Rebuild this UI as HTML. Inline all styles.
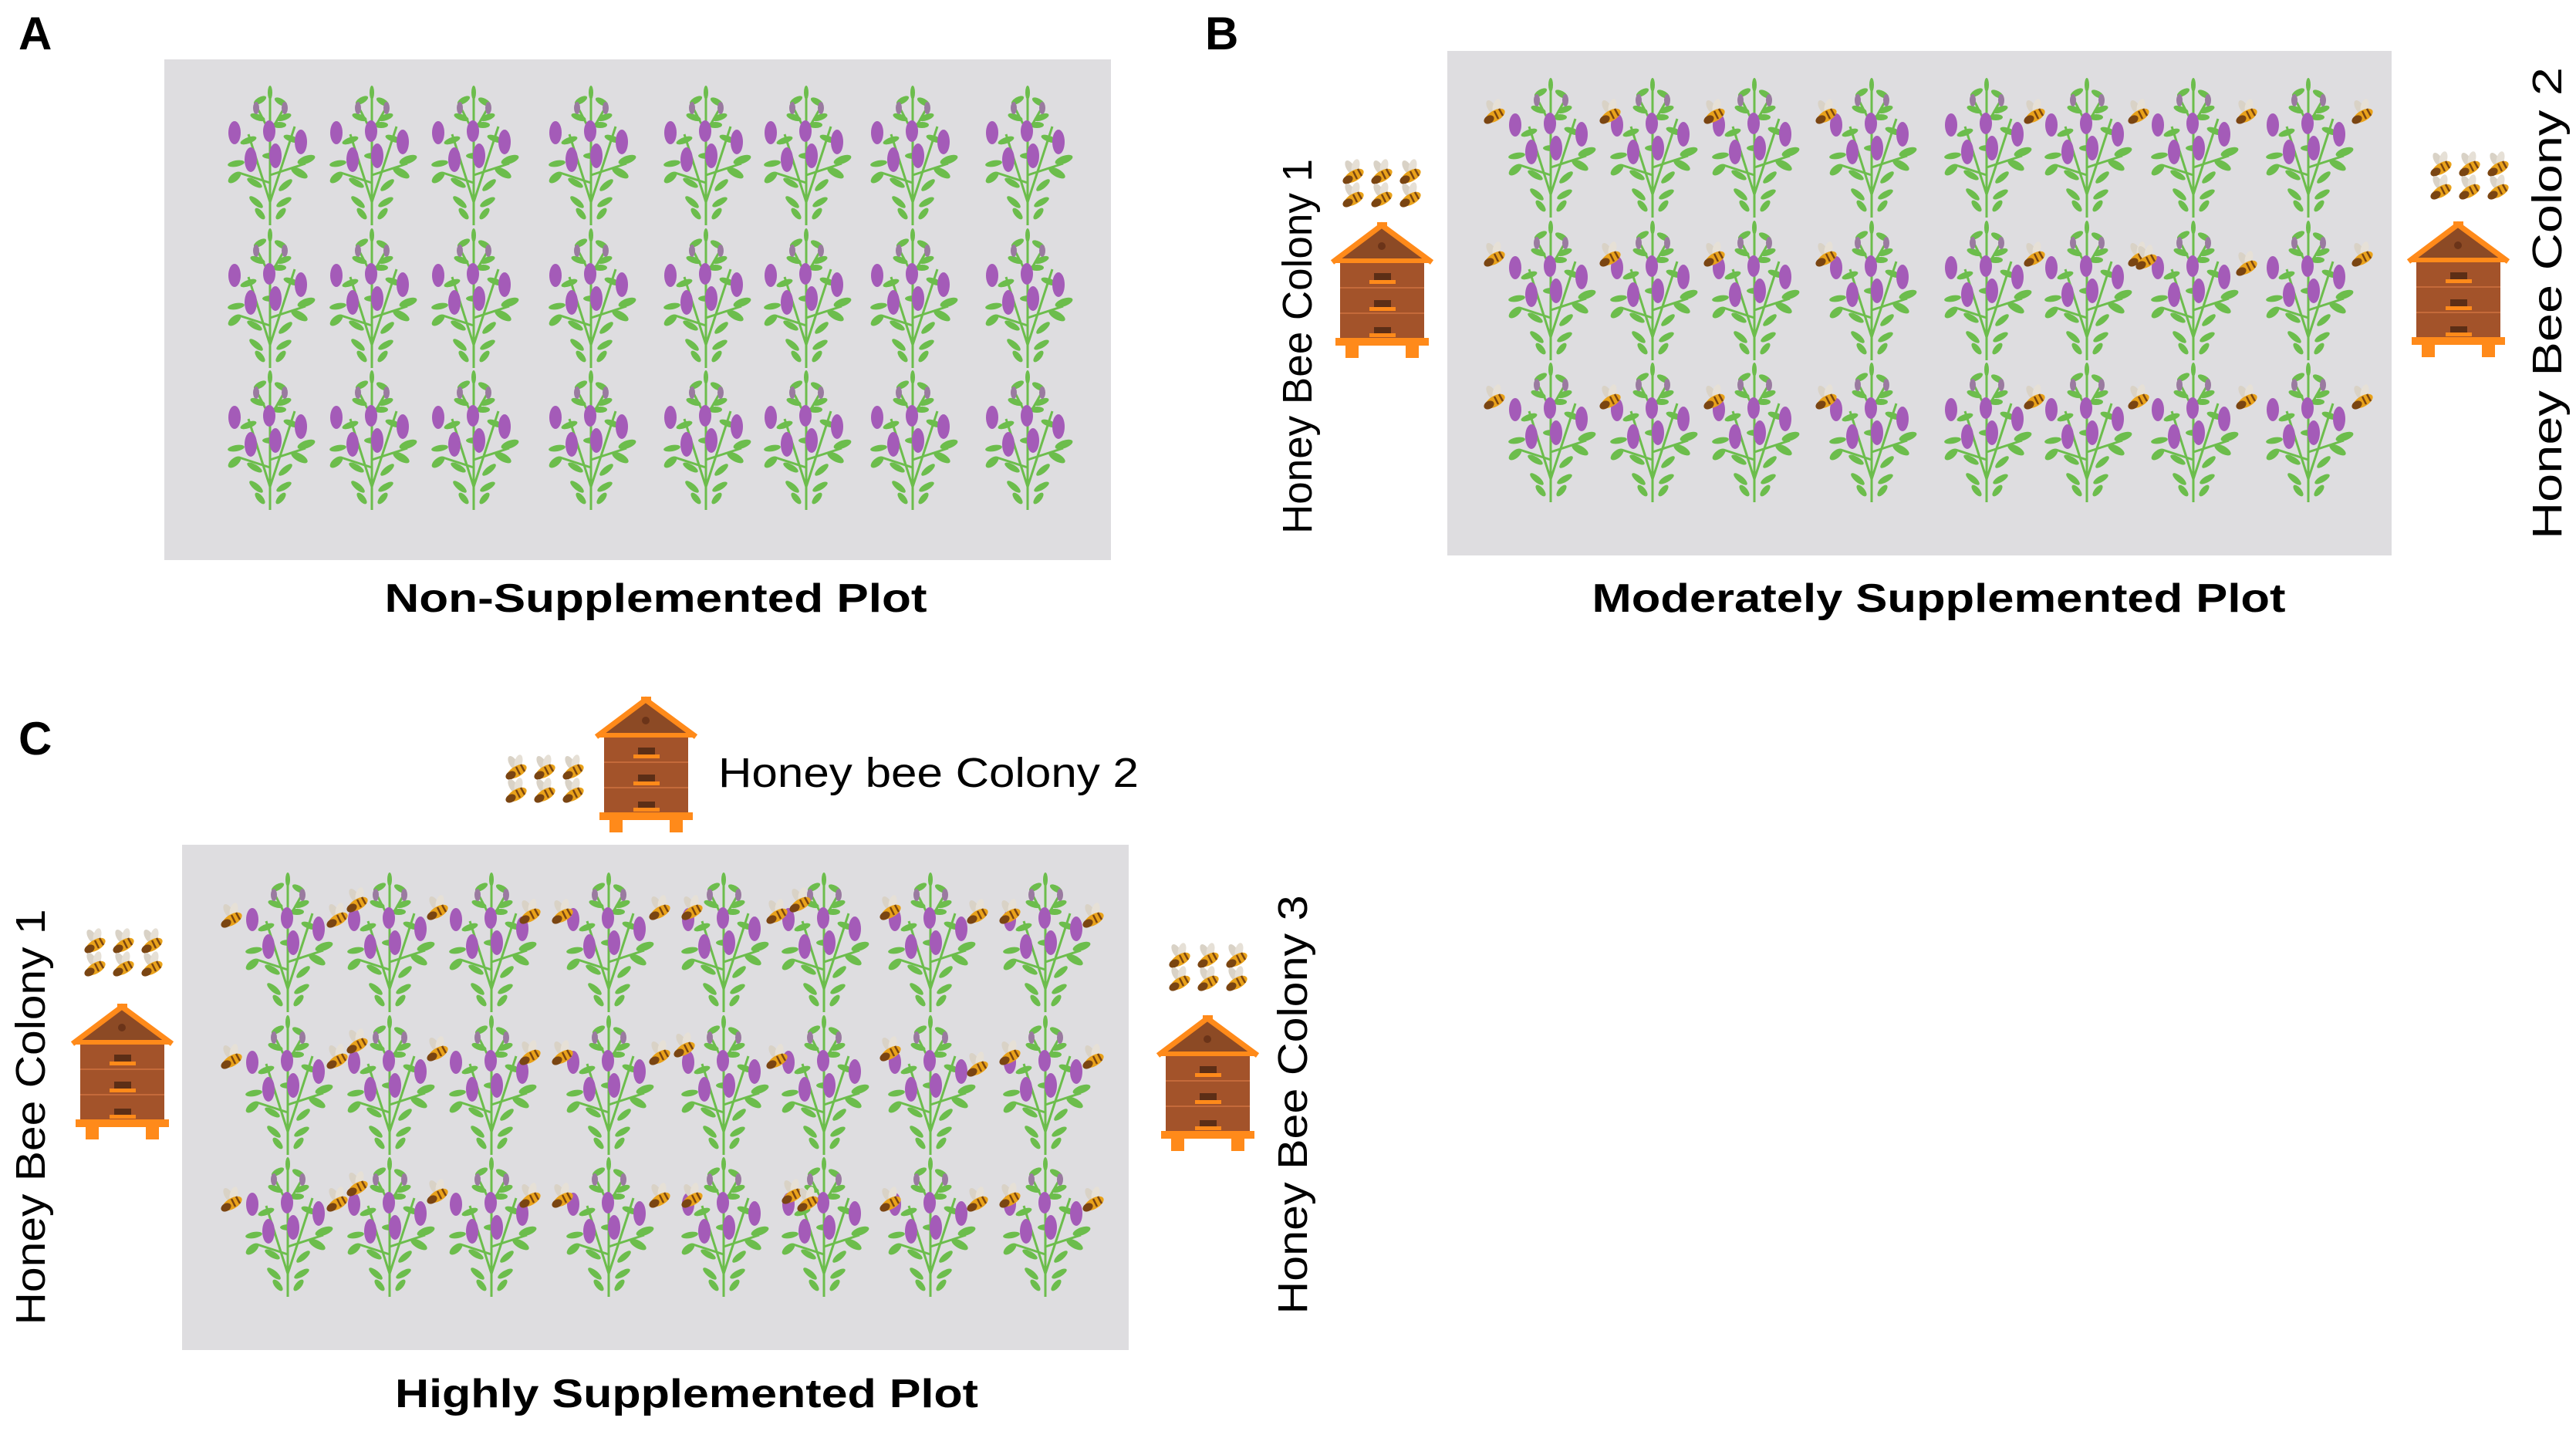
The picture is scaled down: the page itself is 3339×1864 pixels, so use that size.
<!DOCTYPE html>
<html><head><meta charset="utf-8"><style>html,body{margin:0;padding:0;background:#fff}svg{display:block}</style></head><body>
<svg width="3339" height="1864" viewBox="0 0 3339 1864" xmlns="http://www.w3.org/2000/svg" font-family="Liberation Sans, sans-serif">
<defs>
<g id="plant">
 <g stroke="#6cbd4c" stroke-width="3" fill="none">
  <path d="M58 180 L58 8"/><path d="M58 150 L30 62"/><path d="M58 150 L90 52"/><path d="M58 125 L18 112"/><path d="M58 115 L104 100"/><path d="M58 60 L40 25"/><path d="M58 60 L78 25"/>
 </g>
 <g fill="#6cbd4c">
  <ellipse cx="58" cy="8" rx="3" ry="9"/>
  <ellipse cx="45" cy="18" rx="9" ry="4" transform="rotate(-30 45 18)"/><ellipse cx="72" cy="20" rx="9" ry="4" transform="rotate(30 72 20)"/>
  <ellipse cx="42" cy="40" rx="10" ry="4" transform="rotate(20 42 40)"/><ellipse cx="76" cy="40" rx="10" ry="4" transform="rotate(-20 76 40)"/>
  <ellipse cx="30" cy="70" rx="11" ry="4" transform="rotate(-20 30 70)"/><ellipse cx="86" cy="68" rx="11" ry="4" transform="rotate(20 86 68)"/>
  <ellipse cx="14" cy="100" rx="11" ry="4" transform="rotate(-10 14 100)"/><ellipse cx="105" cy="95" rx="12" ry="5" transform="rotate(-20 105 95)"/>
  <ellipse cx="12" cy="118" rx="10" ry="5" transform="rotate(-40 12 118)"/><ellipse cx="96" cy="112" rx="12" ry="5" transform="rotate(30 96 112)"/>
  <ellipse cx="38" cy="125" rx="11" ry="4" transform="rotate(30 38 125)"/><ellipse cx="78" cy="128" rx="11" ry="4" transform="rotate(-40 78 128)"/>
  <ellipse cx="40" cy="150" rx="11" ry="4" transform="rotate(40 40 150)"/><ellipse cx="76" cy="150" rx="11" ry="4" transform="rotate(-30 76 150)"/>
  <ellipse cx="45" cy="165" rx="9" ry="4" transform="rotate(50 45 165)"/><ellipse cx="72" cy="165" rx="9" ry="4" transform="rotate(-50 72 165)"/>
  <ellipse cx="60" cy="90" rx="12" ry="4"/><ellipse cx="70" cy="50" rx="9" ry="4"/>
 </g>
 <g fill="#a45bb8">
  <ellipse cx="12" cy="60" rx="8" ry="15"/><ellipse cx="57" cy="58" rx="8" ry="14"/><ellipse cx="98" cy="72" rx="8" ry="16"/>
  <ellipse cx="33" cy="95" rx="8" ry="16"/><ellipse cx="65" cy="90" rx="8" ry="16"/>
  <ellipse cx="40" cy="28" rx="4" ry="8" fill="#9a7aa0"/><ellipse cx="77" cy="28" rx="4" ry="8" fill="#9a7aa0"/>
 </g>
</g>
<g id="bee">
 <ellipse cx="13" cy="9" rx="5" ry="10" fill="#d9d2c6" transform="rotate(-30 13 9)"/>
 <ellipse cx="20" cy="8" rx="5" ry="10" fill="#e6e0d6" transform="rotate(15 20 8)"/>
 <ellipse cx="18" cy="20" rx="14" ry="7" fill="#e9a21a" transform="rotate(-30 18 20)"/>
 <ellipse cx="10" cy="25" rx="7" ry="5" fill="#7a4512" transform="rotate(-30 10 25)"/>
 <path d="M17 14 L22 24 M23 11 L28 20" stroke="#7a4512" stroke-width="2.5"/>
</g>
<g id="bees">
 <use href="#bee" x="0" y="0"/><use href="#bee" x="37" y="0"/><use href="#bee" x="74" y="0"/>
 <use href="#bee" x="0" y="30"/><use href="#bee" x="37" y="30"/><use href="#bee" x="74" y="30"/>
</g>
<g id="hive">
 <rect x="12" y="52" width="109" height="100" fill="#a3532a"/>
 <path d="M12 85 H121 M12 118 H121" stroke="#c46a3a" stroke-width="2"/>
 <polygon points="66,6 124,50 8,50" fill="#8c4a25"/>
 <polyline points="2,52 66,4 131,52" fill="none" stroke="#ff8a1a" stroke-width="7"/>
 <rect x="4" y="47" width="125" height="6" fill="#ff8a1a"/>
 <rect x="60" y="0" width="13" height="8" fill="#ff8a1a"/>
 <circle cx="66" cy="31" r="5" fill="#6b3419"/>
 <rect x="56" y="66" width="22" height="9" fill="#5c2e16"/><rect x="50" y="75" width="34" height="5" fill="#ff8a1a"/>
 <rect x="56" y="101" width="22" height="9" fill="#5c2e16"/><rect x="50" y="110" width="34" height="5" fill="#ff8a1a"/>
 <rect x="56" y="136" width="22" height="9" fill="#5c2e16"/><rect x="50" y="144" width="34" height="5" fill="#ff8a1a"/>
 <rect x="6" y="150" width="121" height="10" fill="#ff8a1a"/>
 <rect x="19" y="160" width="17" height="16" fill="#ff8a1a"/><rect x="97" y="160" width="17" height="16" fill="#ff8a1a"/>
</g>
</defs>

<!-- Letters -->
<text x="24" y="64" font-size="60" font-weight="bold">A</text>
<text x="1562" y="64" font-size="60" font-weight="bold">B</text>
<text x="24" y="978" font-size="60" font-weight="bold">C</text>

<!-- Panel A -->
<rect x="213" y="77" width="1227" height="649" fill="#dedde0"/>
<g id="plantsA">
 <g transform="translate(0,112)">
  <use href="#plant" x="292"/><use href="#plant" x="424"/><use href="#plant" x="556"/><use href="#plant" x="708"/><use href="#plant" x="857"/><use href="#plant" x="987"/><use href="#plant" x="1125"/><use href="#plant" x="1274"/>
 </g>
 <g transform="translate(0,297)">
  <use href="#plant" x="292"/><use href="#plant" x="424"/><use href="#plant" x="556"/><use href="#plant" x="708"/><use href="#plant" x="857"/><use href="#plant" x="987"/><use href="#plant" x="1125"/><use href="#plant" x="1274"/>
 </g>
 <g transform="translate(0,481)">
  <use href="#plant" x="292"/><use href="#plant" x="424"/><use href="#plant" x="556"/><use href="#plant" x="708"/><use href="#plant" x="857"/><use href="#plant" x="987"/><use href="#plant" x="1125"/><use href="#plant" x="1274"/>
 </g>
</g>
<text x="850" y="793" font-size="52" font-weight="bold" text-anchor="middle" textLength="703" lengthAdjust="spacingAndGlyphs">Non-Supplemented Plot</text>

<!-- Panel B -->
<rect x="1876" y="66" width="1224" height="654" fill="#dedde0"/>
<g transform="translate(1660,-10)">
 <use href="#plantsA"/>
</g>
<g>
 <g transform="translate(0,130)">
  <use href="#bee" x="1920"/><use href="#bee" x="2070"/><use href="#bee" x="2205"/><use href="#bee" x="2350"/><use href="#bee" x="2620"/><use href="#bee" x="2755"/><use href="#bee" x="2895"/><use href="#bee" x="3045"/>
 </g>
 <g transform="translate(0,315)">
  <use href="#bee" x="1920"/><use href="#bee" x="2070"/><use href="#bee" x="2205"/><use href="#bee" x="2350"/><use href="#bee" x="2620"/><use href="#bee" x="2755"/><use href="#bee" x="2765" y="4"/><use href="#bee" x="2895" y="12"/><use href="#bee" x="3045"/>
 </g>
 <g transform="translate(0,500)">
  <use href="#bee" x="1920"/><use href="#bee" x="2070"/><use href="#bee" x="2205"/><use href="#bee" x="2350"/><use href="#bee" x="2620"/><use href="#bee" x="2755"/><use href="#bee" x="2895"/><use href="#bee" x="3045"/>
 </g>
</g>
<use href="#bees" x="1737" y="208"/>
<use href="#hive" x="1725" y="288"/>
<text transform="translate(1700,449) rotate(-90)" font-size="54" text-anchor="middle" textLength="486" lengthAdjust="spacingAndGlyphs">Honey Bee Colony 1</text>
<use href="#bees" x="3147" y="198"/>
<use href="#hive" x="3120" y="287"/>
<text transform="translate(3320,393) rotate(-90)" font-size="54" text-anchor="middle" textLength="612" lengthAdjust="spacingAndGlyphs">Honey Bee Colony 2</text>
<text x="2513" y="793" font-size="52" font-weight="bold" text-anchor="middle" textLength="899" lengthAdjust="spacingAndGlyphs">Moderately Supplemented Plot</text>

<!-- Panel C -->
<rect x="236" y="1095" width="1227" height="655" fill="#dedde0"/>
<g transform="translate(23,1020)">
 <use href="#plantsA"/>
</g>
<g>
 <g transform="translate(0,1172)">
  <use href="#bee" x="283"/><use href="#bee" x="420"/><use href="#bee" x="446" y="-20"/><use href="#bee" x="550" y="-10"/><use href="#bee" x="670" y="-5"/><use href="#bee" x="712" y="-5"/><use href="#bee" x="838" y="-10"/><use href="#bee" x="880" y="-10"/><use href="#bee" x="990" y="-5"/><use href="#bee" x="1020" y="-20"/><use href="#bee" x="1137" y="-10"/><use href="#bee" x="1250" y="-5"/><use href="#bee" x="1292" y="-5"/><use href="#bee" x="1400" y="0"/>
 </g>
 <g transform="translate(0,1355)">
  <use href="#bee" x="283"/><use href="#bee" x="420"/><use href="#bee" x="446" y="-20"/><use href="#bee" x="550" y="-10"/><use href="#bee" x="670" y="-5"/><use href="#bee" x="712" y="-5"/><use href="#bee" x="838" y="-5"/><use href="#bee" x="870" y="-15"/><use href="#bee" x="990" y="0"/><use href="#bee" x="1137" y="-10"/><use href="#bee" x="1250" y="10"/><use href="#bee" x="1292" y="-5"/><use href="#bee" x="1400" y="0"/>
 </g>
 <g transform="translate(0,1540)">
  <use href="#bee" x="283"/><use href="#bee" x="420"/><use href="#bee" x="446" y="-20"/><use href="#bee" x="550" y="-10"/><use href="#bee" x="670" y="-5"/><use href="#bee" x="712" y="-5"/><use href="#bee" x="838" y="-5"/><use href="#bee" x="880" y="-5"/><use href="#bee" x="1010" y="-10"/><use href="#bee" x="1030" y="0"/><use href="#bee" x="1137" y="0"/><use href="#bee" x="1250" y="0"/><use href="#bee" x="1292" y="-5"/><use href="#bee" x="1400" y="0"/>
 </g>
</g>
<use href="#bees" x="652" y="980"/>
<use href="#hive" x="771" y="903"/>
<text x="931" y="1020" font-size="54" textLength="545" lengthAdjust="spacingAndGlyphs">Honey bee Colony 2</text>
<use href="#bees" x="106" y="1205"/>
<use href="#hive" x="92" y="1301"/>
<text transform="translate(58,1448) rotate(-90)" font-size="54" text-anchor="middle" textLength="539" lengthAdjust="spacingAndGlyphs">Honey Bee Colony 1</text>
<use href="#bees" x="1512" y="1224"/>
<use href="#hive" x="1499" y="1316"/>
<text transform="translate(1694,1432) rotate(-90)" font-size="54" text-anchor="middle" textLength="543" lengthAdjust="spacingAndGlyphs">Honey Bee Colony 3</text>
<text x="890" y="1824" font-size="52" font-weight="bold" text-anchor="middle" textLength="756" lengthAdjust="spacingAndGlyphs">Highly Supplemented Plot</text>
</svg>
</body></html>
